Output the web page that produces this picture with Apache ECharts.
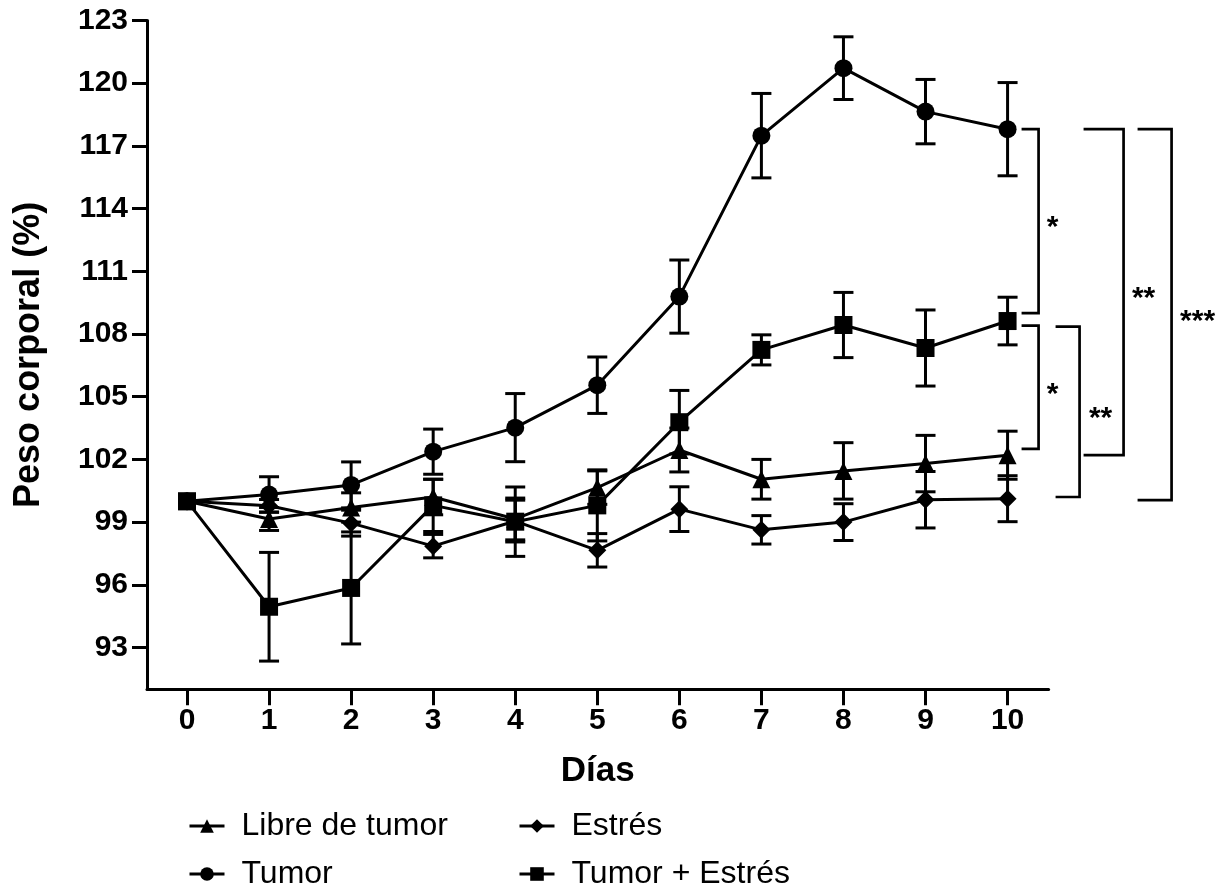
<!DOCTYPE html>
<html>
<head>
<meta charset="utf-8">
<script src="https://cdn.jsdelivr.net/npm/echarts@6/dist/echarts.min.js"></script>
<style>
html,body{margin:0;padding:0;background:#fff;}
#chart{width:1227px;height:892px;}
</style>
</head>
<body>
<div id="chart"></div>
<script>
// ---- data ----
const days = [0, 1, 2, 3, 4, 5, 6, 7, 8, 9, 10];
const yTicks = [93, 96, 99, 102, 105, 108, 111, 114, 117, 120, 123];

const libre      = [100, 99.15, 99.7, 100.2, 99.15, 100.65, 102.45, 101.05, 101.45, 101.8, 102.2];
const libreErr   = [0, 0.55, 0.7, 0.85, 1.0, 0.8, 1.05, 0.95, 1.35, 1.35, 1.15];
const tumor      = [100, 100.32, 100.78, 102.37, 103.52, 105.55, 109.79, 117.49, 120.72, 118.64, 117.8];
const tumorErr   = [0, 0.85, 1.1, 1.08, 1.63, 1.35, 1.75, 2.02, 1.5, 1.54, 2.23];
const estres     = [100, 99.78, 98.95, 97.85, 99.05, 97.65, 99.62, 98.63, 99.0, 100.07, 100.12];
const estresErr  = [0, 0.3, 0.62, 0.56, 1.0, 0.8, 1.07, 0.68, 0.88, 1.35, 1.1];
const tumEst     = [100, 94.95, 95.85, 99.8, 99.02, 99.8, 103.78, 107.24, 108.43, 107.33, 108.62];
const tumEstErr  = [0, 2.6, 2.68, 1.25, 1.66, 1.7, 1.52, 0.72, 1.56, 1.82, 1.14];

// significance brackets: upper value, lower value, label
const bracketTop    = [117.8, 108.4, 108.35, 117.8, 117.8];
const bracketBottom = [109.0, 102.5, 100.2, 102.2, 100.05];
const bracketLabel  = ['*', '*', '**', '**', '***'];

// ---- layout (pixel offsets from the day-10 position) ----
const bracketLayout = [[14, 31, 45], [14, 31, 45], [48, 72, 93], [76, 116, 136], [130, 164, 190]];
const FONT = '"Liberation Sans", Arial, Helvetica, sans-serif';

const chart = echarts.init(document.getElementById('chart'), null, {renderer: 'canvas'});

function errRender(params, api) {
  const x = api.value(0), m = api.value(1), e = api.value(2);
  if (!e) return null;
  const t = api.coord([x, m + e]);
  const b = api.coord([x, m - e]);
  const hw = 10;
  const st = {stroke: '#000', lineWidth: 3};
  return {
    type: 'group',
    children: [
      {type: 'line', shape: {x1: t[0], y1: t[1], x2: b[0], y2: b[1]}, style: st},
      {type: 'line', shape: {x1: t[0] - hw, y1: t[1], x2: t[0] + hw, y2: t[1]}, style: st},
      {type: 'line', shape: {x1: b[0] - hw, y1: b[1], x2: b[0] + hw, y2: b[1]}, style: st}
    ]
  };
}

function bracketRender(params, api) {
  const i = params.dataIndex;
  const p1 = api.coord([api.value(0), api.value(1)]);
  const p2 = api.coord([api.value(0), api.value(2)]);
  const L = bracketLayout[i];
  const x0 = p1[0];
  return {
    type: 'group',
    children: [
      {type: 'polyline', shape: {points: [[x0 + L[0], p1[1]], [x0 + L[1], p1[1]], [x0 + L[1], p2[1]], [x0 + L[0], p2[1]]]},
       style: {stroke: '#000', lineWidth: 2.7, fill: null}},
      {type: 'text', style: {text: bracketLabel[i], x: x0 + L[2], y: (p1[1] + p2[1]) / 2 + 7,
        textAlign: 'center', textVerticalAlign: 'middle', font: 'bold 30px ' + FONT, fill: '#000'}}
    ]
  };
}

function mkLine(name, vals, symbol, size) {
  return {
    name: name, type: 'line', data: days.map((d, i) => [d, vals[i]]),
    symbol: symbol, symbolSize: size, showAllSymbol: true,
    color: '#000',
    lineStyle: {color: '#000', width: 3}, itemStyle: {color: '#000'},
    z: 3
  };
}
function mkErr(vals, errs) {
  return {
    type: 'custom', renderItem: errRender, color: '#000',
    data: days.map((d, i) => [d, vals[i], errs[i]]),
    encode: {x: 0, y: 1}, z: 2, silent: true
  };
}

function mkLegend(left, names) {
  return {
    orient: 'vertical', left: left, top: 810, height: 84, data: names,
    itemWidth: 35, itemHeight: 17, itemGap: 16,
    lineStyle: {width: 3, color: '#000'}, itemStyle: {color: '#000'},
    textStyle: {fontSize: 32, fontFamily: FONT, color: '#000', padding: [0, 0, 0, 12]},
    selectedMode: false, padding: 0
  };
}

const option = {
  animation: false,
  backgroundColor: '#fff',
  color: ['#000'],
  grid: {left: 147, top: 20.5, width: 901.6, height: 668.8, containLabel: false},
  xAxis: {
    type: 'value', min: -0.4875, max: 10.5,
    axisLine: {onZero: false, lineStyle: {color: '#000', width: 3}},
    axisTick: {customValues: days, length: 16, lineStyle: {color: '#000', width: 3}},
    axisLabel: {customValues: days, margin: 16, fontSize: 30, fontWeight: 'bold', color: '#000', fontFamily: FONT},
    splitLine: {show: false},
    name: 'Días', nameLocation: 'middle', nameGap: 65,
    nameTextStyle: {fontSize: 35, fontWeight: 'bold', color: '#000', fontFamily: FONT}
  },
  yAxis: {
    type: 'value', min: 91, max: 123,
    axisLine: {onZero: false, lineStyle: {color: '#000', width: 3}},
    axisTick: {customValues: yTicks, length: 15, lineStyle: {color: '#000', width: 3}},
    axisLabel: {customValues: yTicks, margin: 19, fontSize: 30, fontWeight: 'bold', color: '#000', fontFamily: FONT},
    splitLine: {show: false},
    name: 'Peso corporal (%)', nameLocation: 'middle', nameGap: 100, nameRotate: 90,
    nameTextStyle: {fontSize: 36, fontWeight: 'bold', color: '#000', fontFamily: FONT}
  },
  legend: [
    mkLegend(188, ['Libre de tumor', 'Tumor']),
    mkLegend(518, ['Estrés', 'Tumor + Estrés'])
  ],
  series: [
    mkErr(libre, libreErr),
    mkErr(estres, estresErr),
    mkErr(tumor, tumorErr),
    mkErr(tumEst, tumEstErr),
    mkLine('Libre de tumor', libre, 'triangle', 18),
    mkLine('Estrés', estres, 'diamond', 18),
    mkLine('Tumor', tumor, 'circle', 18),
    mkLine('Tumor + Estrés', tumEst, 'rect', 18),
    {
      type: 'custom', renderItem: bracketRender, silent: true, clip: false,
      data: bracketTop.map((v, i) => [10, v, bracketBottom[i]]),
      encode: {x: 0, y: 1}, z: 4
    }
  ]
};
chart.setOption(option);
</script>
</body>
</html>
